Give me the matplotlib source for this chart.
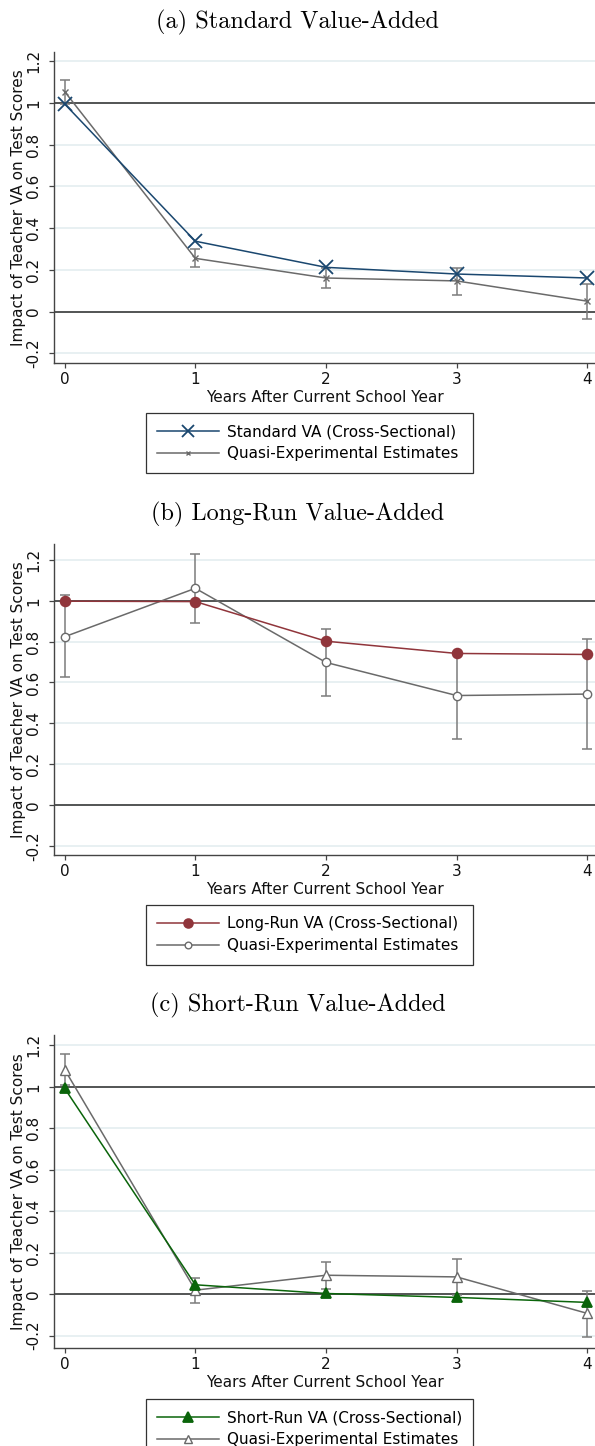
import matplotlib
matplotlib.use("Agg")
import matplotlib.pyplot as plt
from matplotlib.lines import Line2D

W, H, DPI = 595, 1446, 100

# ── data ───────────────────────────────────────────────────────────────────
years = [0, 1, 2, 3, 4]
ytick_vals = [-0.2, 0, 0.2, 0.4, 0.6, 0.8, 1, 1.2]
ytick_labels = ["-0.2", "0", "0.2", "0.4", "0.6", "0.8", "1", "1.2"]

std_va  = [0.994, 0.337, 0.212, 0.180, 0.161]
qe_a    = [1.053, 0.255, 0.161, 0.147, 0.050]
qe_a_lo = [0.995, 0.214, 0.113, 0.080, -0.036]
qe_a_hi = [1.109, 0.299, 0.209, 0.210, 0.134]

lr_va   = [0.998, 0.996, 0.802, 0.742, 0.737]
qe_b    = [0.824, 1.061, 0.698, 0.536, 0.543]
qe_b_lo = [0.626, 0.893, 0.534, 0.323, 0.272]
qe_b_hi = [1.027, 1.227, 0.861, 0.749, 0.813]

sr_va   = [0.992, 0.045, 0.003, -0.016, -0.040]
qe_c    = [1.083, 0.019, 0.091, 0.083, -0.093]
qe_c_lo = [1.007, -0.045, 0.026, -0.002, -0.207]
qe_c_hi = [1.159, 0.080, 0.156, 0.168, 0.013]

titles = ["(a) Standard Value-Added", "(b) Long-Run Value-Added",
          "(c) Short-Run Value-Added"]
main_labels = ["Standard VA (Cross-Sectional)", "Long-Run VA (Cross-Sectional)",
               "Short-Run VA (Cross-Sectional)"]
qe_label = "Quasi-Experimental Estimates"
xlabel = "Years After Current School Year"
ylabel = "Impact of Teacher VA on Test Scores"

# ── styling ────────────────────────────────────────────────────────────────
GRAY = "#6a6a6a"
EGRAY = "#7c7c7c"
GRID = "#e8f0f2"
colors = ["#1a476f", "#90353b", "#0a640a"]

# (marker, size, filled) for main series and QE series
main_mk = [("x", 10, True), ("o", 7, True), ("^", 7.5, True)]
qe_mk = [("x", 4, True), ("o", 6, False), ("^", 6.5, False)]

# panel geometry in pixels: top, bottom of plot region, and y-limits
panels = [
    dict(top=52, bottom=363, ylim=(-0.246, 1.243), leg_top=413),
    dict(top=544, bottom=855, ylim=(-0.245, 1.278), leg_top=905),
    dict(top=1035, bottom=1348, ylim=(-0.26, 1.25), leg_top=1399),
]
AX_LEFT, AX_RIGHT = 54, 595

series = [
    (std_va, qe_a, qe_a_lo, qe_a_hi),
    (lr_va, qe_b, qe_b_lo, qe_b_hi),
    (sr_va, qe_c, qe_c_lo, qe_c_hi),
]

fig = plt.figure(figsize=(W / DPI, H / DPI), dpi=DPI)

for i, (p, (main, qe, lo, hi)) in enumerate(zip(panels, series)):
    ax = fig.add_axes([AX_LEFT / W, 1 - p["bottom"] / H,
                       (AX_RIGHT - AX_LEFT) / W, (p["bottom"] - p["top"]) / H])
    ax.set_xlim(-0.082, 4.059)
    ax.set_ylim(*p["ylim"])

    for y in ytick_vals:
        ax.axhline(y, color=GRID, lw=1.4, zorder=0)
    ax.axhline(0, color="#2a2a2a", lw=1.1, zorder=1)
    ax.axhline(1, color="#2a2a2a", lw=1.1, zorder=1)

    # confidence intervals for quasi-experimental estimates
    err = [[q - l for q, l in zip(qe, lo)], [h - q for q, h in zip(qe, hi)]]
    ax.errorbar(years, qe, yerr=err, fmt="none", ecolor=EGRAY, elinewidth=1.1,
                capsize=3.5, capthick=1.1, zorder=2)

    m, ms, qfill = qe_mk[i]
    ax.plot(years, qe, color=GRAY, lw=1.1, marker=m, ms=ms,
            mfc=GRAY if qfill else "white", mec=GRAY, mew=1.0, zorder=3)

    m, ms, _ = main_mk[i]
    c = colors[i]
    ax.plot(years, main, color=c, lw=1.1, marker=m, ms=ms, mfc=c, mec=c,
            mew=1.3, zorder=4)

    for s in ("top", "right"):
        ax.spines[s].set_visible(False)
    for s in ("left", "bottom"):
        ax.spines[s].set_color("#444444")
        ax.spines[s].set_linewidth(1.0)

    ax.set_xticks(years)
    ax.set_xticklabels([str(x) for x in years])
    ax.set_yticks(ytick_vals)
    ax.set_yticklabels(ytick_labels, rotation=90, va="center")
    ax.tick_params(axis="both", direction="out", length=3.6, width=0.9,
                   color="#444444", labelsize=11, labelcolor="#111111")
    ax.tick_params(axis="y", pad=5.5)
    ax.tick_params(axis="x", pad=3)
    ax.set_xlabel(xlabel, fontsize=11, labelpad=2, color="#111111")
    ax.set_ylabel(ylabel, fontsize=11, labelpad=0, color="#111111")

    fig.text(0.5, 1 - (p["top"] - 30) / H, titles[i], ha="center", va="center",
             fontsize=17.5, fontfamily="cmr10")

    handles = [
        Line2D([], [], color=c, lw=1.1, marker=main_mk[i][0],
               ms=main_mk[i][1] * 0.9, mfc=c, mec=c, mew=1.3),
        Line2D([], [], color=GRAY, lw=1.1, marker=qe_mk[i][0],
               ms=qe_mk[i][1] * 0.8, mfc=GRAY if qfill else "white",
               mec=GRAY, mew=1.0),
    ]
    leg = fig.legend(handles, [main_labels[i], qe_label], loc="upper left",
                     bbox_to_anchor=(146 / W, 1 - p["leg_top"] / H,
                                     (473 - 146) / W, 0.0),
                     mode="expand", borderaxespad=0, fontsize=11,
                     handlelength=4.0, handletextpad=0.55, borderpad=0.75,
                     labelspacing=0.45, fancybox=False, framealpha=1,
                     edgecolor="#333333", numpoints=1)
    leg.get_frame().set_linewidth(0.9)

fig.savefig("out.png", dpi=DPI)
